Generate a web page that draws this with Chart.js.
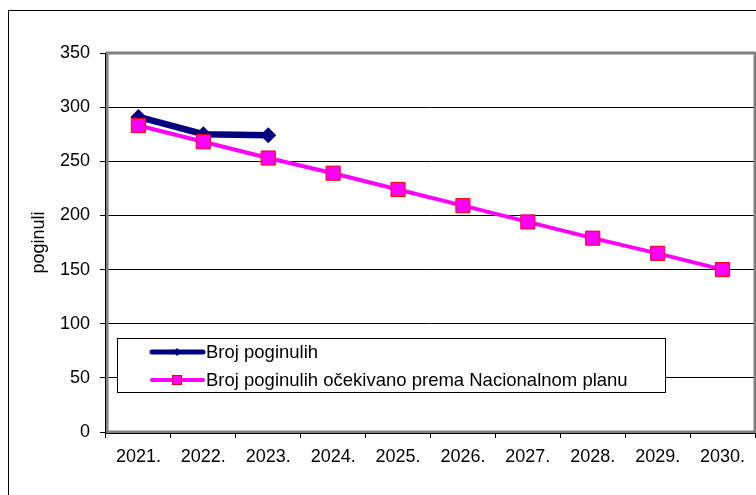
<!DOCTYPE html>
<html>
<head>
<meta charset="utf-8">
<script src="https://cdn.jsdelivr.net/npm/chart.js@4.4.1/dist/chart.umd.min.js"></script>
<style>
  html, body { margin: 0; padding: 0; background: #fff; }
  #wrap { width: 756px; height: 495px; position: relative; }
</style>
</head>
<body>
<div id="wrap"><canvas id="chart" width="756" height="495"></canvas></div>
<script>
// Godine na osi X
const YEARS = ['2021.', '2022.', '2023.', '2024.', '2025.', '2026.', '2027.', '2028.', '2029.', '2030.'];
// Stvarni broj poginulih (samo prve tri godine)
const ACTUAL = [291, 275, 274, null, null, null, null, null, null, null];
// Očekivano prema Nacionalnom planu
const PLANNED = [283, 268, 253, 239, 224, 209, 194, 179, 165, 150];

const LABEL_ACTUAL = 'Broj poginulih';
const LABEL_PLANNED = 'Broj poginulih očekivano prema Nacionalnom planu';
const FONT = 'Liberation Sans, Arial, sans-serif';

// Okvir oko cijelog grafikona, okvir područja crtanja i legenda unutar grafikona
const framePlugin = {
    id: 'frame',
    beforeDraw(chart) {
        const ctx = chart.ctx;
        ctx.save();
        ctx.fillStyle = '#fff';
        ctx.fillRect(0, 0, chart.width, chart.height);
        ctx.strokeStyle = '#000';
        ctx.lineWidth = 1;
        ctx.strokeRect(8.5, 10.5, chart.width + 10, chart.height + 10);
        ctx.restore();
    },
    afterDatasetsDraw(chart) {
        const { ctx, chartArea: a } = chart;
        ctx.save();
        ctx.strokeStyle = '#808080';
        ctx.lineWidth = 3;
        ctx.strokeRect(a.left + 1, a.top, a.right - a.left - 1, a.bottom - a.top);
        ctx.strokeStyle = '#000';
        ctx.lineWidth = 1;
        ctx.beginPath();
        ctx.moveTo(a.left - 0.5, a.top);
        ctx.lineTo(a.left - 0.5, a.bottom + 1.5);
        ctx.lineTo(a.right, a.bottom + 1.5);
        ctx.stroke();

        // legenda
        const bx = 117.5, by = 338.5, bw = 548, bh = 54;
        ctx.fillStyle = '#fff';
        ctx.fillRect(bx, by, bw, bh);
        ctx.strokeStyle = '#000';
        ctx.strokeRect(bx, by, bw, bh);

        ctx.font = '18.5px ' + FONT;
        ctx.textBaseline = 'middle';
        ctx.fillStyle = '#000';

        const y1 = 352, y2 = 380;
        // serija 1
        ctx.strokeStyle = '#000080';
        ctx.lineWidth = 5;
        ctx.lineCap = 'round';
        ctx.beginPath();
        ctx.moveTo(152, y1); ctx.lineTo(203, y1);
        ctx.stroke();
        ctx.fillStyle = '#000080';
        ctx.beginPath();
        ctx.moveTo(177, y1 - 4); ctx.lineTo(181, y1); ctx.lineTo(177, y1 + 4); ctx.lineTo(173, y1);
        ctx.closePath(); ctx.fill();
        ctx.fillStyle = '#000';
        ctx.fillText(LABEL_ACTUAL, 206, y1 + 1);

        // serija 2
        ctx.strokeStyle = '#ff00ff';
        ctx.lineWidth = 4;
        ctx.beginPath();
        ctx.moveTo(152, y2); ctx.lineTo(203, y2);
        ctx.stroke();
        ctx.fillStyle = '#ff00ff';
        ctx.fillRect(172, y2 - 5, 10, 10);
        ctx.strokeStyle = '#ff0000';
        ctx.lineWidth = 1;
        ctx.strokeRect(172.5, y2 - 4.5, 9, 9);
        ctx.fillStyle = '#000';
        ctx.fillText(LABEL_PLANNED, 206, y2 + 1);
        ctx.restore();
    }
};

new Chart(document.getElementById('chart').getContext('2d'), {
    type: 'line',
    data: {
        labels: YEARS,
        datasets: [
            {
                label: LABEL_ACTUAL,
                data: ACTUAL,
                borderColor: '#000080',
                backgroundColor: '#000080',
                borderWidth: 6.5,
                pointStyle: 'rectRot',
                pointRadius: 8,
                pointBorderWidth: 0,
                tension: 0,
                order: 1
            },
            {
                label: LABEL_PLANNED,
                data: PLANNED,
                borderColor: '#ff00ff',
                backgroundColor: '#ff00ff',
                borderWidth: 4,
                pointStyle: 'rect',
                pointRadius: 10,
                pointBorderColor: '#ff0000',
                pointBorderWidth: 1,
                tension: 0,
                order: 0
            }
        ]
    },
    options: {
        responsive: false,
        animation: false,
        events: [],
        layout: { autoPadding: false, padding: { left: 26, top: 53, right: 1, bottom: 0 } },
        plugins: { legend: { display: false }, tooltip: { enabled: false } },
        scales: {
            x: {
                offset: true,
                grid: { offset: true, drawOnChartArea: false, drawTicks: true, tickLength: 6, color: '#000' },
                border: { display: false },
                ticks: { color: '#000', font: { family: FONT, size: 18 }, padding: 8, maxRotation: 0, autoSkip: false },
                afterFit(scale) {
                    scale.height = 63;
                    scale.paddingLeft = 0;
                    scale.paddingRight = 0;
                }
            },
            y: {
                min: 0,
                max: 350,
                grid: { color: '#000', lineWidth: 1, tickLength: 6 },
                border: { display: false },
                ticks: { stepSize: 50, color: '#000', font: { family: FONT, size: 18 }, padding: 10 },
                title: { display: true, text: 'poginuli', color: '#000', font: { family: FONT, size: 18 }, padding: 2 },
                afterFit(scale) {
                    scale.width = 80;
                    scale.paddingTop = 0;
                    scale.paddingBottom = 0;
                }
            }
        }
    },
    plugins: [framePlugin]
});
</script>
</body>
</html>
